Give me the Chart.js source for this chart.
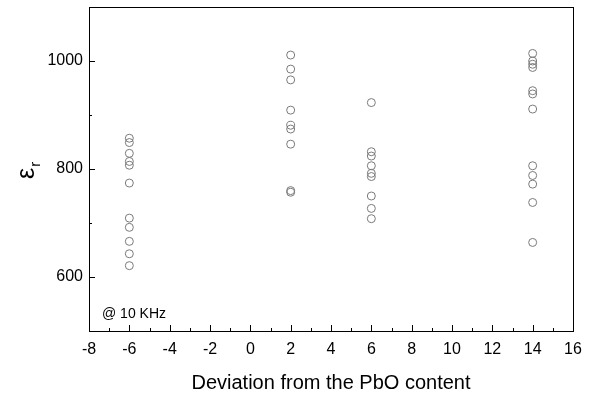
<!DOCTYPE html>
<html>
<head>
<meta charset="utf-8">
<script src="https://cdn.jsdelivr.net/npm/chart.js@4/dist/chart.umd.min.js"></script>
<style>
html,body{margin:0;padding:0;background:#fff;}
#c{display:block;}
</style>
</head>
<body>
<canvas id="c" width="600" height="395"></canvas>
<script>
// Deviation from PbO content (x categories)
const deviations = [-6, 2, 6, 14];
// Relative permittivity values read per deviation
const epsDevM6 = [857, 849, 829, 814, 807, 774, 709, 692, 666, 643, 621];
const epsDevP2 = [1011, 985, 965, 909, 881, 874, 846, 760, 757];
const epsDevP6 = [923, 832, 824, 806, 792, 786, 750, 727, 708];
const epsDevP14 = [1014, 1000, 994, 988, 945, 939, 911, 806, 788, 772, 738, 664];
const yLabeledTicks = [600, 800, 1000];
const xTickLabels = [-8, -6, -4, -2, 0, 2, 4, 6, 8, 10, 12, 14, 16];

const groups = [epsDevM6, epsDevP2, epsDevP6, epsDevP14];
const points = [];
groups.forEach((vals, i) => vals.forEach(v => points.push({x: deviations[i], y: v})));

const FONT = "'Liberation Sans', Arial, sans-serif";

const framePlugin = {
  id: 'frame',
  afterDraw(chart) {
    const ctx = chart.ctx;
    const a = chart.chartArea;
    const xs = chart.scales.x, ys = chart.scales.y;
    ctx.save();
    ctx.strokeStyle = '#000';
    ctx.lineWidth = 1;
    ctx.strokeRect(Math.round(a.left) + 0.5, Math.round(a.top) + 0.5, Math.round(a.right - a.left), Math.round(a.bottom - a.top));
    ctx.beginPath();
    for (let v = xs.min; v <= xs.max; v += 1) {
      const px = Math.round(xs.getPixelForValue(v)) + 0.5;
      const len = (v % 2 === 0) ? 6 : 3;
      ctx.moveTo(px, a.bottom);
      ctx.lineTo(px, a.bottom - len);
    }
    for (let v = ys.min; v <= ys.max; v += 100) {
      const py = Math.round(ys.getPixelForValue(v)) + 0.5;
      const len = yLabeledTicks.includes(v) ? 6 : 3;
      ctx.moveTo(a.left, py);
      ctx.lineTo(a.left + len, py);
    }
    ctx.stroke();

    // axis titles
    ctx.fillStyle = '#000';
    ctx.font = '20px ' + FONT;
    ctx.textAlign = 'center';
    ctx.textBaseline = 'alphabetic';
    ctx.fillText('Deviation from the PbO content', (a.left + a.right) / 2, 389);

    // y title: epsilon with subscript r, rotated
    ctx.save();
    ctx.translate(34, (a.top + a.bottom) / 2 + 10);
    ctx.rotate(-Math.PI / 2);
    ctx.textAlign = 'left';
    ctx.font = '25px ' + FONT;
    ctx.fillText('\u03B5', 0, 0);
    const w = ctx.measureText('\u03B5').width;
    ctx.font = '15px ' + FONT;
    ctx.fillText('r', w + 1, 6);
    ctx.restore();

    // annotation
    ctx.font = '14px ' + FONT;
    ctx.textAlign = 'left';
    ctx.textBaseline = 'middle';
    ctx.fillText('@ 10 KHz', 102, 314);
    ctx.restore();
  }
};

new Chart(document.getElementById('c'), {
  type: 'scatter',
  data: {
    datasets: [{
      data: points,
      pointStyle: 'circle',
      pointRadius: 4,
      pointBorderWidth: 1,
      pointBorderColor: '#7a7a7a',
      pointBackgroundColor: 'rgba(0,0,0,0)',
      showLine: false
    }]
  },
  options: {
    responsive: false,
    animation: false,
    devicePixelRatio: 1,
    layout: {padding: {left: 0, top: 7, right: 27, bottom: 0}},
    plugins: {legend: {display: false}, tooltip: {enabled: false}},
    scales: {
      x: {
        type: 'linear',
        min: -8, max: 16,
        afterFit(s) { s.height = 64; s.paddingLeft = 0; s.paddingRight = 0; },
        afterBuildTicks(s) { s.ticks = xTickLabels.map(v => ({value: v})); },
        grid: {display: false, drawTicks: false},
        border: {display: false},
        ticks: {padding: 9, color: '#000', font: {family: FONT, size: 16},
                callback: v => String(v)}
      },
      y: {
        type: 'linear',
        min: 500, max: 1100,
        afterFit(s) { s.width = 89; s.paddingTop = 0; s.paddingBottom = 0; },
        afterBuildTicks(s) { s.ticks = yLabeledTicks.map(v => ({value: v})); },
        grid: {display: false, drawTicks: false},
        border: {display: false},
        ticks: {padding: 6, color: '#000', font: {family: FONT, size: 16},
                callback: v => String(v)}
      }
    }
  },
  plugins: [framePlugin]
});
</script>
</body>
</html>
